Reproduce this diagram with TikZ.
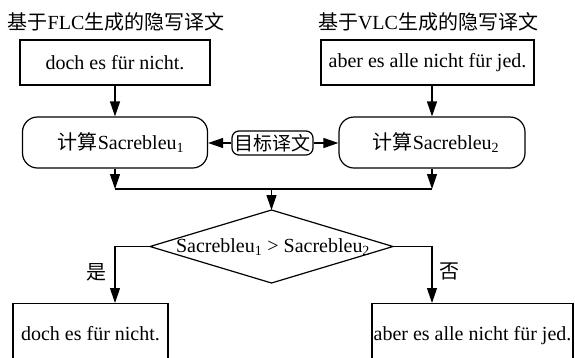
\documentclass[tikz,border=0pt]{standalone}
\usepackage{fontspec}
\setmainfont{Liberation Serif}
\newfontfamily\cjk{Noto Sans CJK SC}
\usetikzlibrary{arrows.meta,calc}
\begin{document}
\begin{tikzpicture}[x=1pt,y=-1pt, line width=1.2pt, font=\fontsize{20}{24}\selectfont,
  box/.style={draw, rectangle, inner sep=0pt, minimum height=45pt},
  rbox/.style={draw, rounded corners=15pt, minimum height=51pt, inner sep=0pt},
  obox/.style={draw, anchor=north, inner sep=0pt, text height=37pt, text depth=30pt},
  arr/.style={-{Triangle[length=15pt,width=10pt]}},
  ttl/.style={inner sep=0pt},
  lbl/.style={inner sep=0pt, font=\fontsize{20}{24}\selectfont\cjk}]
\path[use as bounding box] (0,0) rectangle (575,357);
\clip (0,0) rectangle (575,357);

\node[ttl] (t1) at (116,22) {{\cjk 基于}FLC{\cjk 生成的隐写译文}};
\node[box, minimum width=190pt] (b1) at (115,62.5) {doch es für nicht.};
\node[ttl] (t2) at (428,22) {{\cjk 基于}VLC{\cjk 生成的隐写译文}};
\node[box, minimum width=213pt] (b2) at (427.5,62.5) {aber es alle nicht für jed.};

\node[rbox, minimum width=185pt] (r1) at (115,142.5) {\hspace*{12pt}{\cjk 计算}Sacrebleu\textsubscript{1}};
\node[rbox, minimum width=186pt] (r2) at (432,142.5) {\hspace*{8pt}{\cjk 计算}Sacrebleu\textsubscript{2}};
\node[draw, rounded corners=7pt, minimum width=81pt, minimum height=24pt, inner sep=0pt,
      font=\fontsize{19}{22}\selectfont\cjk] (tg) at (272.5,143) {目标译文};

\coordinate (dt) at (271.5,210);
\coordinate (dr) at (393,246.5);
\coordinate (db) at (271.5,283);
\coordinate (dl) at (150,246.5);
\draw (dt) -- (dr) -- (db) -- (dl) -- cycle;
\node[inner sep=0pt] (d) at (273,247) {Sacrebleu\textsubscript{1} > Sacrebleu\textsubscript{2}};

\node[obox, minimum width=155pt] (b3) at (90.5,303) {doch es für nicht.};
\node[obox, minimum width=201pt] (b4) at (472.5,303) {aber es alle nicht für jed.};

\coordinate (m1) at (115,189);
\coordinate (m2) at (432,189);
\coordinate (j) at (271.5,189);

\draw[arr] (b1.south) -- (r1.north);
\draw[arr] (b2.south -| r2.north) -- (r2.north);
\draw[arr] (tg.west) -- (tg.west -| r1.east);
\draw[arr] (tg.east) -- (tg.east -| r2.west);
\draw[arr] (r1.south) -- (m1);
\draw[arr] (r2.south) -- (m2);
\draw (m1) -- (m2);
\draw[arr] (j) -- (dt);
\draw[arr] (dl) -| (r1.south |- b3.north) node[lbl, pos=0.725, left=8pt] {是};
\draw[arr] (dr) -| (r2.south |- b4.north) node[lbl, pos=0.72, right=7pt] {否};
\end{tikzpicture}
\end{document}
